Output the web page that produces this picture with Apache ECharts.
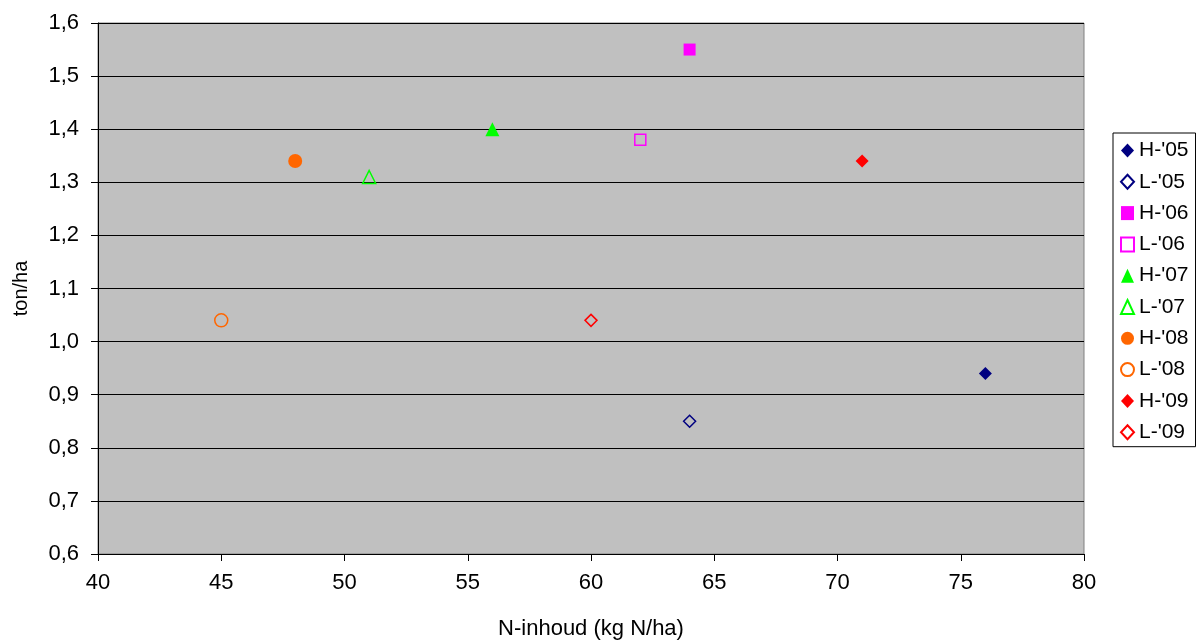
<!DOCTYPE html>
<html><head><meta charset="utf-8">
<script src="https://cdn.jsdelivr.net/npm/echarts@6/dist/echarts.min.js"></script>
<style>html,body{margin:0;padding:0;background:#fff}#c{width:1196px;height:643px}</style>
</head><body><div id="c"></div>
<script>
const seriesNames = ["H-'05","L-'05","H-'06","L-'06","H-'07","L-'07","H-'08","L-'08","H-'09","L-'09"];
const xValues = [76, 64, 64, 62, 56, 51, 48, 45, 71, 60];
const yValues = [0.94, 0.85, 1.55, 1.38, 1.40, 1.31, 1.34, 1.04, 1.34, 1.04];
const colors = ['#000080','#000080','#FF00FF','#FF00FF','#00FF00','#00FF00','#FF6600','#FF6600','#FF0000','#FF0000'];
const symbols = ['diamond','diamond','rect','rect','triangle','triangle','circle','circle','diamond','diamond'];
const filled = [true,false,true,false,true,false,true,false,true,false];
const sizes = [13,12,12,11,14,13,14,13,13,12];

const font = 'Liberation Sans, Arial, sans-serif';
const series = seriesNames.map((n,i)=>({
  name:n, type:'scatter', symbol:symbols[i], symbolSize:sizes[i],
  data:[[xValues[i], yValues[i]]],
  itemStyle: filled[i] ? {color:colors[i], opacity:1} : {color:'rgba(0,0,0,0)', borderColor:colors[i], borderWidth:1.5, opacity:1}
}));
const chart = echarts.init(document.getElementById('c'));
chart.setOption({
  animation:false,
  textStyle:{fontFamily:font},
  grid:{left:98,right:112,top:23,bottom:89,containLabel:false,outerBoundsMode:'none',show:true,backgroundColor:'#C0C0C0',borderColor:'#808080',borderWidth:1},
  xAxis:{type:'value',min:40,max:80,interval:5,
    name:'N-inhoud (kg N/ha)',nameLocation:'middle',nameGap:64,
    nameTextStyle:{fontSize:22,color:'#000',fontFamily:font},
    axisLine:{show:true,onZero:false,lineStyle:{color:'#000',width:1}},
    axisTick:{show:true,inside:false,length:7,lineStyle:{color:'#000'}},
    axisLabel:{fontSize:22,color:'#000',margin:18,fontFamily:font},
    splitLine:{show:false}},
  yAxis:{type:'value',min:0.6,max:1.6,interval:0.1,
    name:'ton/ha',nameLocation:'middle',nameGap:67,nameRotate:90,
    nameTextStyle:{fontSize:20,color:'#000',fontFamily:font},
    axisLine:{show:true,onZero:false,lineStyle:{color:'#000',width:1}},
    axisTick:{show:true,inside:false,length:7,lineStyle:{color:'#000'}},
    axisLabel:{fontSize:22,color:'#000',margin:19,fontFamily:font,
      formatter:v=>v.toFixed(1).replace('.',',')},
    splitLine:{show:true,lineStyle:{color:'#000',width:1}}},
  legend:{orient:'vertical',left:1113,top:133,
    padding:[7,7,4,7],itemGap:10.3,itemWidth:13,itemHeight:14,
    borderColor:'#000',borderWidth:1,backgroundColor:'#fff',
    textStyle:{fontSize:21,color:'#000',fontFamily:font},
    data:seriesNames},
  series
});
</script></body></html>
